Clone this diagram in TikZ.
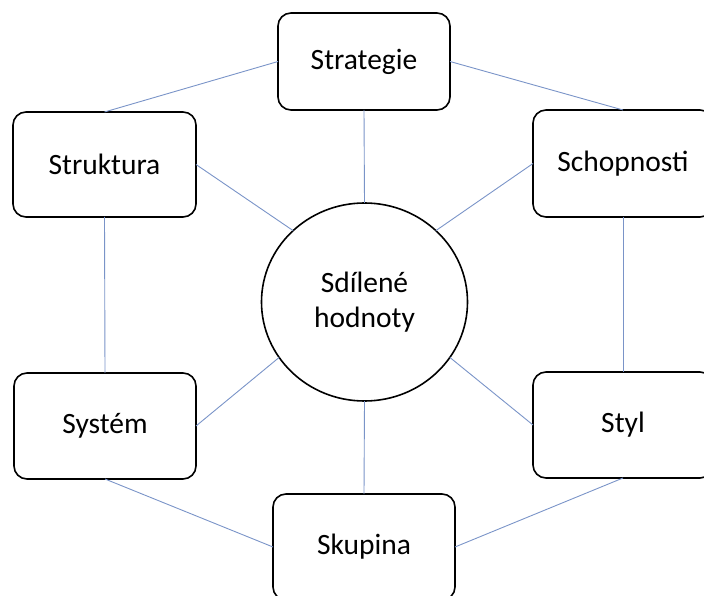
\documentclass[tikz,border=0pt]{standalone}
\usepackage{fontspec}
\setmainfont{Carlito}
\usetikzlibrary{shapes.geometric}
\definecolor{linkblue}{RGB}{122,148,200}

\begin{document}
\begin{tikzpicture}[x=1pt, y=1pt]

\tikzset{part/.style={draw=black,line width=1.6pt,rounded corners=13pt,fill=white,inner sep=0pt,outer sep=0pt,
  font=\fontsize{29.5}{35}\selectfont},
core/.style={shape=ellipse,draw=black,line width=1.6pt,fill=white,inner sep=0pt,outer sep=0pt,
  minimum width=206pt,minimum height=198pt,align=center,font=\fontsize{29.5}{35}\selectfont},
link/.style={linkblue,line width=0.9pt}}

\useasboundingbox (0,0) rectangle (704,595);

% Nodes
\node[core] (shared) at (364.5,293) {Sdílené\\hodnoty};
\node[part,minimum width=172pt,minimum height=97pt] (strategie) at (364,533.5) {Strategie};
\node[part,minimum width=183pt,minimum height=105pt] (struktura) at (104.5,430.5) {Struktura};
\node[part,minimum width=180pt,minimum height=107pt] (schopnosti) at (623,431.5) {Schopnosti};
\node[part,minimum width=182pt,minimum height=106pt] (system) at (105,169) {Systém};
\node[part,minimum width=180pt,minimum height=106pt] (styl) at (623,170) {Styl};
\node[part,minimum width=182pt,minimum height=106pt] (skupina) at (364,48) {Skupina};

% Outer ring
\draw[link] (strategie.west) -- (struktura.north);
\draw[link] (strategie.east) -- (schopnosti.north);
\draw[link] (struktura.south) -- (system.north);
\draw[link] (schopnosti.south) -- (styl.north);
\draw[link] (system.south) -- (skupina.west);
\draw[link] (styl.south) -- (skupina.east);

% Spokes
\draw[link] (strategie.south) -- (shared.north);
\draw[link] (struktura.east) -- (shared.135);
\draw[link] (schopnosti.west) -- (shared.45);
\draw[link] (system.east) -- (shared.213);
\draw[link] (styl.west) -- (shared.327);
\draw[link] (shared.south) -- (skupina.north);

\end{tikzpicture}
\end{document}
